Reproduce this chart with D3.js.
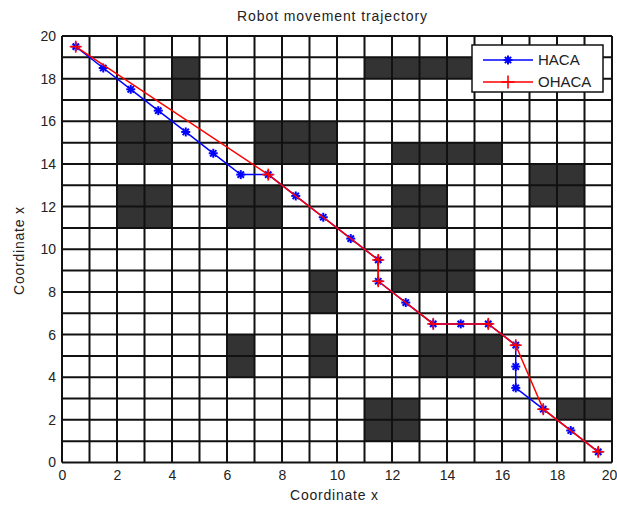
<!DOCTYPE html>
<html>
<head>
    <title>Robot movement trajectory</title>
    <style>
        body { margin: 0; background: #fff; }
        text { font-family: "Liberation Sans", Arial, sans-serif; fill: #222; }
    </style>
</head>
<body>
    <script src="https://d3js.org/d3.v7.min.js"></script>
    <script>
        // Obstacle cells, [column, row] = lower-left corner of each black square
        const obstacles = [
            [4, 17], [4, 18],
            [2, 14], [3, 14], [2, 15], [3, 15],
            [7, 14], [8, 14], [9, 14], [7, 15], [8, 15], [9, 15],
            [2, 11], [3, 11], [2, 12], [3, 12],
            [6, 11], [7, 11], [6, 12], [7, 12],
            [11, 18], [12, 18], [13, 18], [14, 18],
            [12, 14], [13, 14], [14, 14], [15, 14],
            [17, 12], [18, 12], [17, 13], [18, 13],
            [12, 11], [13, 11], [12, 12], [13, 12],
            [12, 9], [13, 9], [14, 9], [12, 8], [13, 8], [14, 8],
            [9, 8], [9, 7],
            [6, 4], [6, 5], [9, 4], [9, 5],
            [13, 4], [14, 4], [15, 4], [13, 5], [14, 5], [15, 5],
            [11, 1], [12, 1], [11, 2], [12, 2],
            [18, 2], [19, 2]
        ];

        // HACA path (blue)
        const hacaX = [0.5, 1.5, 2.5, 3.5, 4.5, 5.5, 6.5, 7.5, 8.5, 9.5, 10.5, 11.5, 11.5, 12.5, 13.5, 14.5, 15.5, 16.5, 16.5, 16.5, 17.5, 18.5, 19.5];
        const hacaY = [19.5, 18.5, 17.5, 16.5, 15.5, 14.5, 13.5, 13.5, 12.5, 11.5, 10.5, 9.5, 8.5, 7.5, 6.5, 6.5, 6.5, 5.5, 4.5, 3.5, 2.5, 1.5, 0.5];

        // OHACA path (red)
        const ohacaX = [0.5, 7.5, 11.5, 11.5, 13.5, 15.5, 16.5, 17.5, 19.5];
        const ohacaY = [19.5, 13.5, 9.5, 8.5, 6.5, 6.5, 5.5, 2.5, 0.5];

        const tickVals = [0, 2, 4, 6, 8, 10, 12, 14, 16, 18, 20];
        const gridVals = d3.range(0, 21);

        const width = 617, height = 507;
        const pLeft = 62, pRight = 612, pTop = 36, pBottom = 462.5;

        const svg = d3.select('body').append('svg')
            .attr('width', width)
            .attr('height', height);

        const x = d3.scaleLinear().domain([0, 20]).range([pLeft, pRight]);
        const y = d3.scaleLinear().domain([0, 20]).range([pBottom, pTop]);

        // background
        svg.append('rect')
            .attr('x', pLeft).attr('y', pTop)
            .attr('width', pRight - pLeft).attr('height', pBottom - pTop)
            .attr('fill', '#fff');

        // obstacles
        svg.append('g').selectAll('rect')
            .data(obstacles)
            .enter().append('rect')
            .attr('x', d => x(d[0]))
            .attr('y', d => y(d[1] + 1))
            .attr('width', d => x(d[0] + 1) - x(d[0]))
            .attr('height', d => y(d[1]) - y(d[1] + 1))
            .attr('fill', '#333');

        // grid
        const grid = svg.append('g').attr('stroke', '#111').attr('stroke-width', 2);
        grid.selectAll('.v').data(gridVals).enter().append('line')
            .attr('x1', d => x(d)).attr('x2', d => x(d))
            .attr('y1', pTop).attr('y2', pBottom);
        grid.selectAll('.h').data(gridVals).enter().append('line')
            .attr('y1', d => y(d)).attr('y2', d => y(d))
            .attr('x1', pLeft).attr('x2', pRight);

        // axes
        const xAxis = svg.append('g')
            .attr('transform', `translate(0,${pBottom})`)
            .call(d3.axisBottom(x).tickValues(tickVals).tickSize(0).tickPadding(8));
        const yAxis = svg.append('g')
            .attr('transform', `translate(${pLeft},0)`)
            .call(d3.axisLeft(y).tickValues(tickVals).tickSize(0).tickPadding(6));
        [xAxis, yAxis].forEach(a => {
            a.select('.domain').remove();
            a.selectAll('text')
                .attr('font-size', 14)
                .attr('font-family', '"Liberation Sans", Arial, sans-serif')
                .attr('fill', '#222');
        });
        // keep the last x label inside the window
        xAxis.selectAll('.tick').filter(d => d === 20).select('text').attr('dx', -3);

        // paths
        const line = d3.line().x(d => x(d[0])).y(d => y(d[1]));
        const haca = hacaX.map((v, i) => [v, hacaY[i]]);
        const ohaca = ohacaX.map((v, i) => [v, ohacaY[i]]);

        function star(g, cx, cy, r, color) {
            const s = g.append('g').attr('stroke', color).attr('stroke-width', 2)
                .attr('transform', `translate(${cx},${cy})`);
            s.append('line').attr('x1', -r).attr('x2', r).attr('y1', 0).attr('y2', 0);
            s.append('line').attr('x1', 0).attr('x2', 0).attr('y1', -r).attr('y2', r);
            s.append('line').attr('x1', -r * 0.7).attr('x2', r * 0.7).attr('y1', -r * 0.7).attr('y2', r * 0.7);
            s.append('line').attr('x1', -r * 0.7).attr('x2', r * 0.7).attr('y1', r * 0.7).attr('y2', -r * 0.7);
        }
        function plus(g, cx, cy, r, color) {
            const s = g.append('g').attr('stroke', color).attr('stroke-width', 1.6)
                .attr('transform', `translate(${cx},${cy})`);
            s.append('line').attr('x1', -r).attr('x2', r).attr('y1', 0).attr('y2', 0);
            s.append('line').attr('x1', 0).attr('x2', 0).attr('y1', -r).attr('y2', r);
        }

        svg.append('path').datum(haca)
            .attr('d', line).attr('fill', 'none')
            .attr('stroke', '#0000ff').attr('stroke-width', 1.5);
        const hm = svg.append('g');
        haca.forEach(d => star(hm, x(d[0]), y(d[1]), 4.5, '#0000ff'));

        svg.append('path').datum(ohaca)
            .attr('d', line).attr('fill', 'none')
            .attr('stroke', '#ff0000').attr('stroke-width', 1.5);
        const om = svg.append('g');
        ohaca.forEach(d => plus(om, x(d[0]), y(d[1]), 6, '#ff0000'));

        // title and labels
        svg.append('text')
            .attr('x', 332).attr('y', 21)
            .attr('text-anchor', 'middle')
            .attr('font-size', 14)
            .attr('textLength', 190).attr('lengthAdjust', 'spacing')
            .text('Robot movement trajectory');
        svg.append('text')
            .attr('x', 334).attr('y', 500)
            .attr('text-anchor', 'middle')
            .attr('font-size', 14)
            .attr('textLength', 88).attr('lengthAdjust', 'spacing')
            .text('Coordinate x');
        svg.append('text')
            .attr('transform', 'translate(24,251) rotate(-90)')
            .attr('text-anchor', 'middle')
            .attr('font-size', 14)
            .attr('textLength', 88).attr('lengthAdjust', 'spacing')
            .text('Coordinate x');

        // legend
        const lg = svg.append('g');
        lg.append('rect')
            .attr('x', 472).attr('y', 45).attr('width', 131).attr('height', 47)
            .attr('fill', '#fff').attr('stroke', '#111').attr('stroke-width', 1.5);
        const entries = [
            { name: 'HACA', color: '#0000ff', ly: 60 },
            { name: 'OHACA', color: '#ff0000', ly: 82 }
        ];
        entries.forEach((e, i) => {
            lg.append('line')
                .attr('x1', 483).attr('x2', 533).attr('y1', e.ly).attr('y2', e.ly)
                .attr('stroke', e.color).attr('stroke-width', 1.5);
            if (i === 0) star(lg, 508, e.ly, 4.5, e.color);
            else plus(lg, 508, e.ly, 6.5, e.color);
            lg.append('text')
                .attr('x', 538).attr('y', e.ly + 5)
                .attr('font-size', 15)
                .text(e.name);
        });
    </script>
</body>
</html>
